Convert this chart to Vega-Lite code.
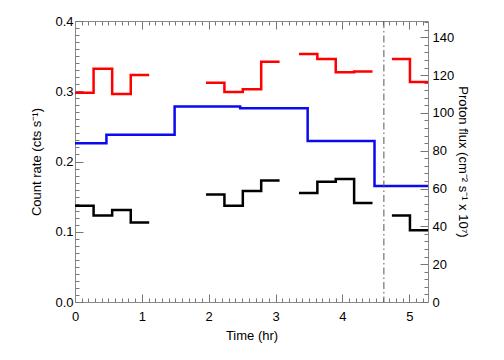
{
  "$schema": "https://vega.github.io/schema/vega-lite/v6.json",
  "width": 353,
  "height": 281,
  "autosize": "none",
  "padding": {"left": 75, "top": 21, "right": 76, "bottom": 58},
  "background": "white",
  "config": {"view": {"stroke": null}, "font": "Liberation Sans", "axis": {"titleFontWeight": "normal", "titleFont": "Liberation Sans", "labelFont": "Liberation Sans"}},
  "datasets": {
    "counts": [
      {"series": "hard", "group": "r1", "t": 0, "v": 0.298},
      {"series": "hard", "group": "r1", "t": 0.278, "v": 0.332},
      {"series": "hard", "group": "r1", "t": 0.556, "v": 0.296},
      {"series": "hard", "group": "r1", "t": 0.834, "v": 0.323},
      {"series": "hard", "group": "r1", "t": 1.11, "v": 0.323},
      {"series": "hard", "group": "r2", "t": 1.96, "v": 0.312},
      {"series": "hard", "group": "r2", "t": 2.235, "v": 0.299},
      {"series": "hard", "group": "r2", "t": 2.51, "v": 0.303},
      {"series": "hard", "group": "r2", "t": 2.785, "v": 0.342},
      {"series": "hard", "group": "r2", "t": 3.06, "v": 0.342},
      {"series": "hard", "group": "r3", "t": 3.35, "v": 0.353},
      {"series": "hard", "group": "r3", "t": 3.625, "v": 0.346},
      {"series": "hard", "group": "r3", "t": 3.9, "v": 0.327},
      {"series": "hard", "group": "r3", "t": 4.175, "v": 0.328},
      {"series": "hard", "group": "r3", "t": 4.45, "v": 0.328},
      {"series": "hard", "group": "r4", "t": 4.74, "v": 0.346},
      {"series": "hard", "group": "r4", "t": 5.01, "v": 0.313},
      {"series": "hard", "group": "r4", "t": 5.28, "v": 0.313},
      {"series": "soft", "group": "k1", "t": 0, "v": 0.137},
      {"series": "soft", "group": "k1", "t": 0.278, "v": 0.123},
      {"series": "soft", "group": "k1", "t": 0.556, "v": 0.131},
      {"series": "soft", "group": "k1", "t": 0.834, "v": 0.113},
      {"series": "soft", "group": "k1", "t": 1.11, "v": 0.113},
      {"series": "soft", "group": "k2", "t": 1.96, "v": 0.153},
      {"series": "soft", "group": "k2", "t": 2.235, "v": 0.137},
      {"series": "soft", "group": "k2", "t": 2.51, "v": 0.158},
      {"series": "soft", "group": "k2", "t": 2.785, "v": 0.173},
      {"series": "soft", "group": "k2", "t": 3.06, "v": 0.173},
      {"series": "soft", "group": "k3", "t": 3.35, "v": 0.155},
      {"series": "soft", "group": "k3", "t": 3.625, "v": 0.171},
      {"series": "soft", "group": "k3", "t": 3.9, "v": 0.175},
      {"series": "soft", "group": "k3", "t": 4.175, "v": 0.141},
      {"series": "soft", "group": "k3", "t": 4.45, "v": 0.141},
      {"series": "soft", "group": "k4", "t": 4.74, "v": 0.123},
      {"series": "soft", "group": "k4", "t": 5.01, "v": 0.102},
      {"series": "soft", "group": "k4", "t": 5.28, "v": 0.102}
    ],
    "proton": [
      {"t": 0, "flux": 84.0},
      {"t": 0.47, "flux": 88.4},
      {"t": 1.49, "flux": 103.4},
      {"t": 2.47, "flux": 102.4},
      {"t": 3.48, "flux": 85.2},
      {"t": 4.48, "flux": 61.3},
      {"t": 5.28, "flux": 61.3}
    ],
    "marker": [{"t": 4.62}]
  },
  "layer": [
    {
      "data": {"name": "counts"},
      "mark": {"type": "line", "interpolate": "step-after", "strokeWidth": 2.5},
      "encoding": {
        "x": {
          "field": "t", "type": "quantitative",
          "scale": {"domain": [0, 5.28], "nice": false, "zero": false},
          "axis": {
            "orient": "bottom", "title": "Time (hr)", "grid": false,
            "values": [0,0.1,0.2,0.3,0.4,0.5,0.6,0.7,0.8,0.9,1,1.1,1.2,1.3,1.4,1.5,1.6,1.7,1.8,1.9,2,2.1,2.2,2.3,2.4,2.5,2.6,2.7,2.8,2.9,3,3.1,3.2,3.3,3.4,3.5,3.6,3.7,3.8,3.9,4,4.1,4.2,4.3,4.4,4.5,4.6,4.7,4.8,4.9,5,5.1,5.2],
            "labelExpr": "abs(datum.value - round(datum.value)) < 0.000001 ? format(datum.value, 'd') : ''",
            "tickSize": {"condition": {"test": "abs(datum.value - round(datum.value)) < 0.000001", "value": -8}, "value": -4},
            "domainColor": "#888888", "tickColor": "#777777",
            "labelFontSize": 13, "labelColor": "#000000",
            "labelPadding": 16, "labelFlush": false, "labelOverlap": false,
            "titleFontSize": 13, "titleFontWeight": "normal", "titleColor": "#000000",
            "titlePadding": 2
          }
        },
        "y": {
          "field": "v", "type": "quantitative",
          "scale": {"domain": [0, 0.4], "nice": false, "zero": false},
          "axis": {
            "orient": "left", "title": "Count rate (cts  s⁻¹)", "grid": false,
            "values": [0,0.01,0.02,0.03,0.04,0.05,0.06,0.07,0.08,0.09,0.1,0.11,0.12,0.13,0.14,0.15,0.16,0.17,0.18,0.19,0.2,0.21,0.22,0.23,0.24,0.25,0.26,0.27,0.28,0.29,0.3,0.31,0.32,0.33,0.34,0.35,0.36,0.37,0.38,0.39,0.4],
            "labelExpr": "abs(datum.value*10 - round(datum.value*10)) < 0.000001 ? format(datum.value, '.1f') : ''",
            "tickSize": {"condition": {"test": "abs(datum.value*10 - round(datum.value*10)) < 0.000001", "value": -8}, "value": -4},
            "domainColor": "#888888", "tickColor": "#777777",
            "labelFontSize": 13, "labelColor": "#000000",
            "labelPadding": 10, "labelFlush": false, "labelOverlap": false,
            "titleFontSize": 13, "titleFontWeight": "normal", "titleColor": "#000000",
            "titlePadding": 11
          }
        },
        "color": {"field": "series", "type": "nominal", "scale": {"domain": ["hard", "soft"], "range": ["#ff0000", "#000000"]}, "legend": null},
        "detail": {"field": "group"}
      }
    },
    {
      "data": {"name": "proton"},
      "mark": {"type": "line", "interpolate": "step-after", "strokeWidth": 2.5, "color": "#0a0aef"},
      "encoding": {
        "x": {
          "field": "t", "type": "quantitative",
          "scale": {"domain": [0, 5.28], "nice": false, "zero": false},
          "axis": {
            "orient": "top", "title": null, "grid": false, "labels": false,
            "values": [0,0.1,0.2,0.3,0.4,0.5,0.6,0.7,0.8,0.9,1,1.1,1.2,1.3,1.4,1.5,1.6,1.7,1.8,1.9,2,2.1,2.2,2.3,2.4,2.5,2.6,2.7,2.8,2.9,3,3.1,3.2,3.3,3.4,3.5,3.6,3.7,3.8,3.9,4,4.1,4.2,4.3,4.4,4.5,4.6,4.7,4.8,4.9,5,5.1,5.2],
            "tickSize": {"condition": {"test": "abs(datum.value - round(datum.value)) < 0.000001", "value": -8}, "value": -4},
            "domainColor": "#888888", "tickColor": "#777777"
          }
        },
        "y": {
          "field": "flux", "type": "quantitative",
          "scale": {"domain": [0, 148.6], "nice": false, "zero": false},
          "axis": {
            "orient": "right", "title": "Proton flux (cm⁻² s⁻¹ x 10⁷)", "grid": false,
            "values": [0,4,8,12,16,20,24,28,32,36,40,44,48,52,56,60,64,68,72,76,80,84,88,92,96,100,104,108,112,116,120,124,128,132,136,140,144,148],
            "labelExpr": "datum.value % 20 == 0 ? format(datum.value, 'd') : ''",
            "tickSize": {"condition": {"test": "datum.value % 20 == 0", "value": -8}, "value": -4},
            "domainColor": "#888888", "tickColor": "#777777",
            "labelFontSize": 13, "labelColor": "#000000",
            "labelPadding": 12, "labelFlush": false, "labelOverlap": false,
            "titleFontSize": 13, "titleFontWeight": "normal", "titleColor": "#000000",
            "titlePadding": 2
          }
        }
      }
    },
    {
      "data": {"name": "marker"},
      "mark": {"type": "rule", "color": "#555555", "strokeWidth": 1, "strokeDash": [7, 3, 1.5, 3]},
      "encoding": {
        "x": {"field": "t", "type": "quantitative", "scale": {"domain": [0, 5.28], "nice": false, "zero": false}, "axis": null}
      }
    }
  ],
  "resolve": {"scale": {"x": "independent", "y": "independent"}}
}
